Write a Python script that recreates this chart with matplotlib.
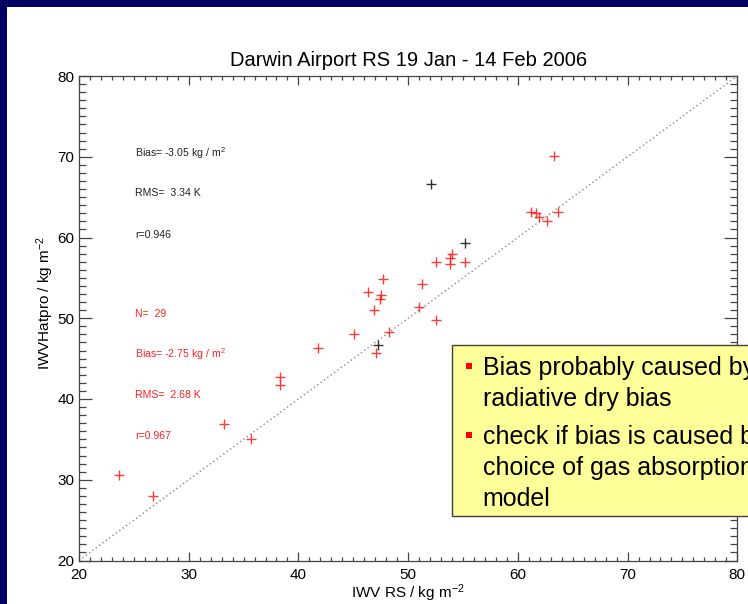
import matplotlib
matplotlib.use("Agg")
import matplotlib.pyplot as plt
from matplotlib.patches import Rectangle
from matplotlib.ticker import MultipleLocator

plt.rcParams['font.family'] = ['Liberation Sans', 'DejaVu Sans']
plt.rcParams['mathtext.fontset'] = 'custom'
plt.rcParams['mathtext.rm'] = 'Liberation Sans'
plt.rcParams['mathtext.it'] = 'Liberation Sans'

# IWV from radiosonde (x) vs HATPRO (y), kg m-2
rs_red = [23.67, 26.77, 33.25, 35.68, 38.33, 38.33, 41.77, 45.10, 47.08, 48.29,
          46.38, 46.90, 47.51, 47.45, 47.72, 51.03, 51.30, 52.58, 52.52, 53.77,
          53.83, 54.01, 55.20, 61.21, 61.67, 61.92, 62.65, 63.70, 63.31]
hatpro_red = [30.63, 27.97, 36.95, 35.00, 42.69, 41.70, 46.37, 48.02, 45.70, 48.27,
              53.22, 51.08, 52.82, 52.40, 54.80, 51.40, 54.22, 49.84, 56.94, 56.78,
              57.40, 57.90, 56.94, 63.10, 62.98, 62.48, 62.03, 63.18, 70.12]
rs_black = [52.12, 55.20, 47.24]
hatpro_black = [66.58, 59.34, 46.65]

stats_all = ["Bias= -3.05 kg / m$^2$", "RMS=  3.34 K", "r=0.946"]
stats_red = ["N=  29", "Bias= -2.75 kg / m$^2$", "RMS=  2.68 K", "r=0.967"]

title = "Darwin Airport RS 19 Jan - 14 Feb 2006"
bullets = [["Bias probably caused by", "radiative dry bias"],
           ["check if bias is caused by", "choice of gas absorption", "model"]]

W, H = 748, 604
fig = plt.figure(figsize=(W / 100, H / 100), dpi=100, facecolor='#000062')

def fx(px):
    return px / W

def fy(py):
    return 1 - py / H

# white slide area
fig.patches.append(Rectangle((fx(7), 0), 1, fy(7), transform=fig.transFigure,
                             facecolor='white', edgecolor='none', zorder=-5))

ax = fig.add_axes([fx(79), fy(560.5), fx(737.3) - fx(79), fy(76) - fy(560.5)])
ax.set_zorder(1)
ax.set_xlim(20, 80)
ax.set_ylim(20, 80)

ax.plot([20, 80], [20, 80], linestyle=(0, (1, 2)), color='#888888', lw=1)
ax.plot(rs_red, hatpro_red, '+', color='#ff1a1a', ms=7.5, mew=1.0, alpha=0.85)
ax.plot(rs_black, hatpro_black, '+', color='#333333', ms=7.5, mew=1.0)

ax.xaxis.set_major_locator(MultipleLocator(10))
ax.xaxis.set_minor_locator(MultipleLocator(1))
ax.yaxis.set_major_locator(MultipleLocator(10))
ax.yaxis.set_minor_locator(MultipleLocator(1))
ax.tick_params(axis='both', which='both', direction='in', top=True, right=True,
               color='#444444', width=0.9, labelsize=11)
ax.tick_params(axis='x', which='major', length=6.5, pad=5.5)
ax.tick_params(axis='x', which='minor', length=3)
ax.tick_params(axis='y', which='major', length=9.5, pad=3.5)
ax.tick_params(axis='y', which='minor', length=5)
for s in ax.spines.values():
    s.set_color('#444444')
    s.set_linewidth(0.9)

ax.set_title(title, fontsize=14.5, pad=7)
ax.set_xlabel("IWV RS / kg m$^{-2}$", fontsize=11, labelpad=0.5)
fig.text(fx(45), fy(303), "IWVHatpro / kg m$^{-2}$", rotation=90, fontsize=11,
         ha='center', va='center')

for txt, yy in zip(stats_all, [0.841, 0.758, 0.671]):
    ax.text(0.085, yy, txt, transform=ax.transAxes, fontsize=7.6, color='#222222',
            va='center')
for txt, yy in zip(stats_red, [0.508, 0.426, 0.341, 0.256]):
    ax.text(0.085, yy, txt, transform=ax.transAxes, fontsize=7.6, color='#ff2020',
            va='center')

# yellow note box
fig.patches.append(Rectangle((fx(452), fy(516)), fx(400), fy(345) - fy(516),
                             transform=fig.transFigure, facecolor='#ffff99',
                             edgecolor='#404040', lw=1, zorder=5))
bullet_tops = [362.7, 432.3]
baselines = [[375, 406], [444, 475.3, 505.7]]
for lines, btop, bases in zip(bullets, bullet_tops, baselines):
    fig.patches.append(Rectangle((fx(466), fy(btop + 6)), fx(6), fy(btop) - fy(btop + 6),
                                 transform=fig.transFigure, facecolor='red',
                                 edgecolor='none', zorder=6))
    for line, b in zip(lines, bases):
        fig.text(fx(482.7), fy(b), line, fontsize=18, color='black',
                 va='baseline', ha='left', zorder=7)

fig.savefig("out.png", dpi=100, facecolor=fig.get_facecolor())
